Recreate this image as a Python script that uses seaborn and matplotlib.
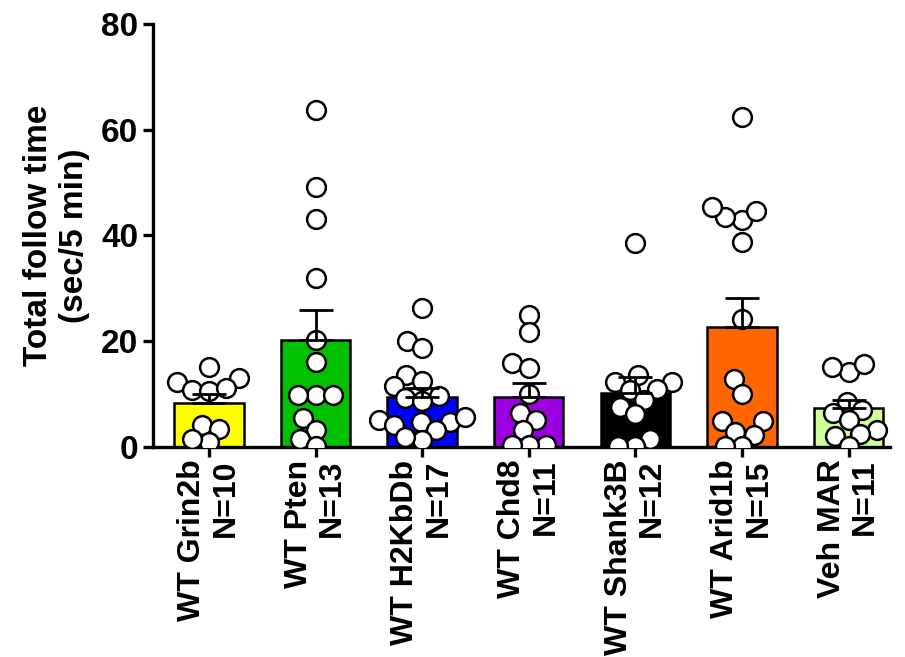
import pandas as pd
import matplotlib
matplotlib.use("Agg")
import matplotlib.pyplot as plt
from matplotlib.collections import PathCollection
import seaborn as sns
import numpy as np

# Values (sec / 5 min), one list per group
groups = ["WT Grin2b", "WT Pten", "WT H2KbDb", "WT Chd8", "WT Shank3B", "WT Arid1b", "Veh MAR"]
grin2b = [12.3, 10.8, 10.5, 13.0, 15.2, 11.1, 4.2, 3.5, 1.0, 1.5]
pten = [63.7, 49.1, 43.2, 31.9, 20.2, 16.1, 9.8, 9.8, 9.8, 5.5, 3.3, 1.6, 0.2]
h2kbdb = [26.2, 20.1, 18.7, 13.6, 12.5, 11.5, 9.6, 9.2, 8.7, 4.8, 5.1, 5.7, 4.2, 4.8, 3.2, 1.3, 1.9]
chd8 = [25.0, 21.8, 15.8, 14.9, 10.0, 6.4, 5.2, 3.3, 0.4, 0.4, 0.4]
shank3b = [38.5, 12.3, 12.3, 13.6, 10.8, 10.9, 8.9, 7.6, 6.2, 1.6, 0.1, 0.1]
arid1b = [62.4, 42.9, 43.4, 44.7, 45.4, 38.8, 24.2, 12.8, 10.1, 5.0, 5.0, 2.9, 2.3, 0.1, 0.1]
veh_mar = [14.2, 15.1, 15.7, 8.6, 7.0, 6.5, 5.1, 3.2, 2.1, 2.5, 0.2]
bar_colors = ["#FFFF00", "#00C000", "#0000FF", "#9D00E0", "#000000", "#FF6600", "#CCFF99"]

series = [grin2b, pten, h2kbdb, chd8, shank3b, arid1b, veh_mar]
labels = [f"{g}\nN={len(v)}" for g, v in zip(groups, series)]

df = pd.DataFrame({
    "group": np.repeat(labels, [len(v) for v in series]),
    "value": np.concatenate(series),
})

sns.set_style("ticks")
plt.rcParams["font.family"] = ["Liberation Sans", "DejaVu Sans"]
plt.rcParams["font.weight"] = "bold"
plt.rcParams["text.color"] = "black"
plt.rcParams["axes.labelcolor"] = "black"
plt.rcParams["xtick.color"] = "black"
plt.rcParams["ytick.color"] = "black"
plt.rcParams["axes.edgecolor"] = "black"

fig = plt.figure(figsize=(9.05, 6.57), dpi=100)
ax = fig.add_axes([0.169, 0.3196, 0.814, 0.644])

sns.barplot(data=df, x="group", y="value", hue="group", order=labels, hue_order=labels,
            palette=bar_colors, errorbar=None, width=0.65, edgecolor="black",
            linewidth=1.8, legend=False, saturation=1, ax=ax, zorder=1)

# swarm laid out with smaller markers so points overlap like the original
sns.swarmplot(data=df, x="group", y="value", order=labels, color="white",
              edgecolor="black", linewidth=1.8, size=10, ax=ax, zorder=3, warn_thresh=1)

# upper-only SEM error bars
means = df.groupby("group", sort=False)["value"].mean().reindex(labels)
sems = df.groupby("group", sort=False)["value"].sem().reindex(labels)
ax.errorbar(np.arange(len(labels)), means.values, yerr=[np.zeros(len(labels)), sems.values],
            fmt="none", ecolor="black", elinewidth=2, capsize=12, capthick=2, zorder=4)

ax.set_ylim(0, 80)
ax.set_yticks([0, 20, 40, 60, 80])
ax.set_xlim(-0.525, 6.385)
ax.set_xlabel("")
ax.set_ylabel("Total follow time\n(sec/5 min)", fontsize=24, fontweight="bold", labelpad=8)

sns.despine(ax=ax)
for side in ["left", "bottom"]:
    ax.spines[side].set_linewidth(2.4)
ax.tick_params(axis="both", width=2.4, length=7, labelsize=24)
ax.tick_params(axis="x", pad=2)
for lab in ax.get_yticklabels():
    lab.set_fontweight("bold")
for lab in ax.get_xticklabels():
    lab.set_rotation(90)
    lab.set_fontweight("bold")
    lab.set_fontsize(23)
    lab.set_ha("center")
    lab.set_va("top")
    lab.set_multialignment("right")
    lab.set_linespacing(1.15)

# fix the swarm positions, then enlarge the markers
fig.canvas.draw()
for coll in ax.collections:
    if isinstance(coll, PathCollection) and "draw" in coll.__dict__:
        del coll.draw
        coll.set_sizes([13.5 ** 2])

plt.savefig("out.png", dpi=100)
plt.close()
